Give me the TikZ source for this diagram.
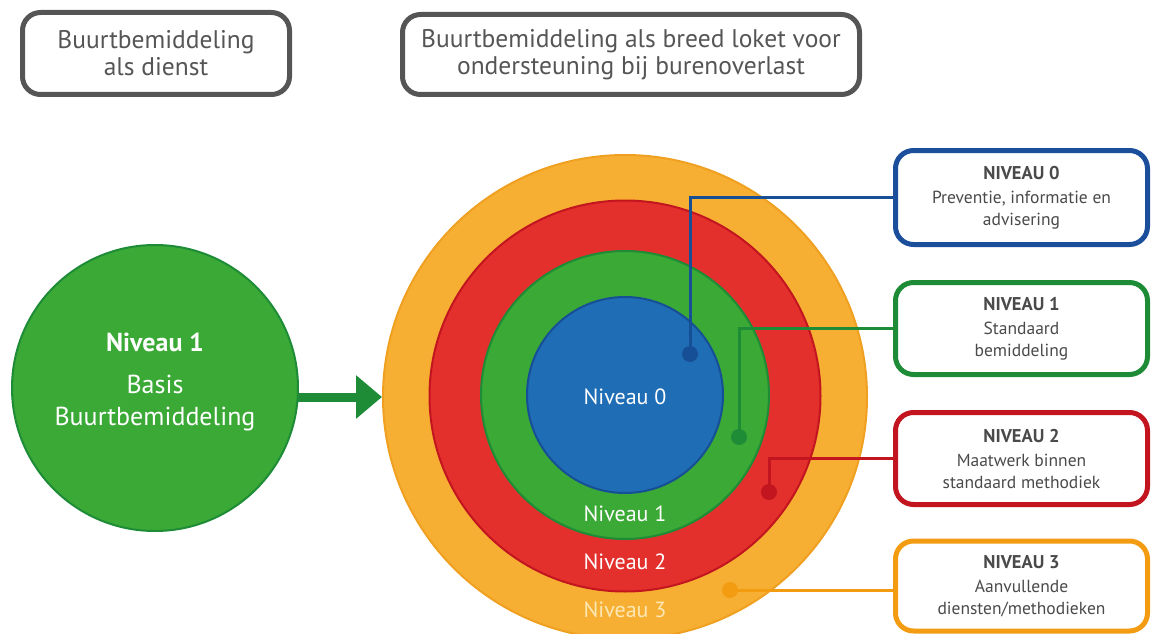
\documentclass[tikz,border=0pt]{standalone}
\usepackage{fontspec}
\setmainfont{PT Sans}
\usetikzlibrary{arrows.meta}
\definecolor{orgfill}{HTML}{F7AF33}
\definecolor{orgline}{HTML}{F0A020}
\definecolor{redfill}{HTML}{E3302C}
\definecolor{redline}{HTML}{C3151F}
\definecolor{grnfill}{HTML}{3AA935}
\definecolor{grnline}{HTML}{1E8C37}
\definecolor{blufill}{HTML}{1F6DB5}
\definecolor{bluline}{HTML}{174F96}
\definecolor{boxblue}{HTML}{1B4F9C}
\definecolor{boxorg}{HTML}{F39C12}
\definecolor{txtgray}{HTML}{4A4A4A}
\definecolor{hdgray}{HTML}{555555}
\definecolor{lvl3txt}{HTML}{FDE8B5}
\tikzset{
  hdbox/.style={draw=hdgray, line width=5pt, rounded corners=18pt, align=center,
    text=hdgray, font=\fontsize{25.5}{27}\selectfont, inner sep=0pt},
  lvbox/.style={line width=5pt, rounded corners=18pt, align=center, fill=white,
    text=txtgray, font=\fontsize{17.5}{21.5}\selectfont, inner sep=0pt,
    minimum width=252pt},
  ring/.style={circle, inner sep=0pt, line width=2pt},
  ringlabel/.style={text=white, font=\fontsize{22}{24}\selectfont},
  conn/.style={line width=3pt},
  dotmark/.style={circle, inner sep=0pt, minimum size=16pt},
}
\newcommand{\lvtext}[2]{{\fontsize{18.5}{22}\selectfont\bfseries #1}\\[3pt]#2}
\begin{document}
\begin{tikzpicture}[x=1pt,y=-1pt]
\useasboundingbox (0,0) rectangle (1152,634);
\clip (0,0) rectangle (1152,634);
% header boxes
\node[hdbox, minimum width=267pt, minimum height=82pt] (h1) at (156,53.5) {Buurtbemiddeling\\als dienst};
\node[hdbox, minimum width=457pt, minimum height=80pt] (h2) at (631,54.5) {Buurtbemiddeling als breed loket voor\\ondersteuning bij burenoverlast};
% left circle
\node[ring, fill=grnfill, draw=grnline, minimum size=286pt] (basis) at (155,388) {};
\node[text=white, align=center, font=\fontsize{26}{32}\selectfont] (basistxt) at (155,382)
  {\textbf{Niveau 1}\\[10pt]Basis\\Buurtbemiddeling};
% concentric rings
\node[ring, fill=orgfill, draw=orgline, minimum size=484pt] (r3) at (625,397) {};
\node[ring, fill=redfill, draw=redline, minimum size=391pt] (r2) at (625,396) {};
\node[ring, fill=grnfill, draw=grnline, minimum size=288pt] (r1) at (625,395) {};
\node[ring, fill=blufill, draw=bluline, minimum size=196pt] (r0) at (625,395) {};
\node[ringlabel] (l0) at (625,397) {Niveau 0};
\node[ringlabel] (l1) at (625,514) {Niveau 1};
\node[ringlabel] (l2) at (625,562) {Niveau 2};
\node[ringlabel, text=lvl3txt] (l3) at (625,610) {Niveau 3};
% arrow
\coordinate (arrs) at (298,397);
\draw[grnline, line width=9pt, -{Triangle[length=26pt,width=42pt]}] (arrs) -- (r3.west);
% right boxes
\node[lvbox, draw=boxblue, minimum height=94pt] (b0) at (1021.5,197.5)
  {\lvtext{NIVEAU 0}{Preventie, informatie en\\advisering}};
\node[lvbox, draw=grnline, minimum height=92pt] (b1) at (1021.5,328.5)
  {\lvtext{NIVEAU 1}{Standaard\\bemiddeling}};
\node[lvbox, draw=redline, minimum height=92pt] (b2) at (1021.5,458.5)
  {\lvtext{NIVEAU 2}{Maatwerk binnen\\standaard methodiek}};
\node[lvbox, draw=boxorg, minimum height=90pt] (b3) at (1021.5,586)
  {\lvtext{NIVEAU 3}{Aanvullende\\diensten/methodieken}};
% connector dots
\node[dotmark, fill=bluline] (d0) at (690,354) {};
\node[dotmark, fill=grnline] (d1) at (739,437) {};
\node[dotmark, fill=redline] (d2) at (769,492) {};
\node[dotmark, fill=boxorg] (d3) at (730,590) {};
% connectors
\draw[conn, bluline] (d0.center) |- (b0.west);
\draw[conn, grnline] (d1.center) |- (b1.west);
\draw[conn, redline] (d2.center) |- (b2.west);
\draw[conn, boxorg] (d3.center) -- (b3.west |- d3.center);
\end{tikzpicture}
\end{document}
